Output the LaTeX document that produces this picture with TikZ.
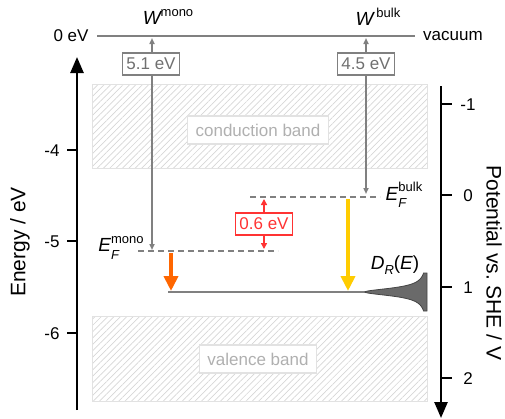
\documentclass[tikz,border=0pt]{standalone}
\usepackage{fontspec}
\setmainfont{Liberation Sans}
\usetikzlibrary{arrows.meta,positioning,patterns.meta}
\definecolor{levelgray}{HTML}{808080}
\definecolor{boxtext}{HTML}{707070}
\definecolor{bandedge}{HTML}{E2E2E2}
\definecolor{hatchgray}{HTML}{D6D6D6}
\definecolor{bandtext}{HTML}{B0B0B0}
\definecolor{gapred}{HTML}{FF3333}
\definecolor{monoorange}{HTML}{FF6600}
\definecolor{bulkyellow}{HTML}{FFCC00}
\definecolor{dosfill}{HTML}{6A6A6A}
\definecolor{dosedge}{HTML}{444444}

\begin{document}
\begin{tikzpicture}[x=1pt, y=-1pt,
    every node/.style={font=\fontsize{17}{20}\selectfont},
    band/.style={draw=bandedge, line width=1pt, pattern={Lines[angle=45,distance=4.5pt,line width=0.7pt]}, pattern color=hatchgray},
    bandlabel/.style={draw=bandedge, fill=white, text=bandtext, line width=1.5pt, inner xsep=8pt, minimum height=28pt},
    wbox/.style={draw=levelgray, fill=white, text=boxtext, line width=1.6pt, inner xsep=4pt, inner ysep=2pt, minimum height=22pt},
    gapbox/.style={draw=gapred, fill=white, text=gapred, line width=1.6pt, inner xsep=4pt, inner ysep=2pt, minimum height=22pt},
    level/.style={levelgray, line width=2pt},
    fermi/.style={levelgray, line width=2pt, dash pattern=on 6pt off 4pt},
    warrow/.style={levelgray, line width=1.5pt, -{Triangle[length=6pt,width=5pt]}},
    gaparrow/.style={gapred, line width=1.5pt, -{Triangle[length=6pt,width=6pt]}},
    transfer/.style={line width=4pt, -{Triangle[length=15pt,width=14pt]}},
    axis/.style={line width=2.5pt, -{Triangle[length=16pt,width=13pt]}},
    tick/.style={line width=2.5pt}
]
    \useasboundingbox (0,0) rectangle (505,418);

    \draw[band] (92,84) rectangle (427,168);
    \draw[band] (92,316) rectangle (427,401);
    \node[bandlabel] (cb) at (258,130) {conduction band};
    \node[bandlabel] (vb) at (258,359) {valence band};

    \node (zero) at (71,36) {0 eV};
    \node (vac) at (453,36) {vacuum};
    \draw[level] ([xshift=5pt]zero.east) -- ([xshift=-5pt]vac.west);
    \node (wmono) at (168,17) {{\fontsize{19}{20}\selectfont\itshape W}\raisebox{0.45em}{\fontsize{13}{13}\selectfont mono}};
    \node (wbulk) at (378,17) {{\fontsize{19}{20}\selectfont\itshape W}\,\raisebox{0.45em}{\fontsize{13}{13}\selectfont bulk}};

    \coordinate (wm) at (152,38);
    \coordinate (wb) at (366,38);
    \coordinate (efm) at (152,250);
    \coordinate (efb) at (366,194);
    \node[wbox] (d51) at (151,64) {5.1 eV};
    \node[wbox] (d45) at (366,64) {4.5 eV};
    \draw[warrow] (d51.north -| wm) -- (wm);
    \draw[warrow] (d51.south -| efm) -- (efm);
    \draw[warrow] (d45.north) -- (wb);
    \draw[warrow] (d45.south) -- (efb);

    \draw[fermi] (250,197) -- (380,197);
    \draw[fermi] (138,251) -- (278,251);
    \node (lbulk) at (404,195) {{\fontsize{19}{20}\selectfont\itshape E}\rlap{\raisebox{-0.45em}{\fontsize{13}{13}\selectfont\itshape F}}\raisebox{0.5em}{\fontsize{13}{13}\selectfont bulk}};
    \node (lmono) at (121,248) {{\fontsize{19}{20}\selectfont\itshape E}\rlap{\raisebox{-0.45em}{\fontsize{13}{13}\selectfont\itshape F}}\raisebox{0.5em}{\fontsize{13}{13}\selectfont mono}};

    \node[gapbox] (gap) at (264,224) {0.6 eV};
    \coordinate (gtop) at (264,199);
    \coordinate (gbot) at (264,249);
    \draw[gaparrow] (gap.north) -- (gtop);
    \draw[gaparrow] (gap.south) -- (gbot);

    \coordinate (rstart) at (168,292);
    \coordinate (rend) at (366,292);
    \draw[level] (rstart) -- (rend);
    \filldraw[fill=dosfill, draw=dosedge, line width=0.8pt] (427,273) -- plot[domain=-19:19, samples=121] ({427-62/(1+(\x/4.6)^2)}, {292+\x}) -- (427,311) -- cycle;
    \node (dos) at (395,265) {\fontsize{19}{20}\selectfont\itshape D\raisebox{-0.3em}{\fontsize{13}{13}\selectfont R}\upshape(\itshape E\upshape)};

    \coordinate (otop) at (171,253);
    \coordinate (obot) at (171,291);
    \coordinate (ytop) at (348,199);
    \coordinate (ybot) at (348,291);
    \draw[transfer, monoorange] (otop) -- (obot);
    \draw[transfer, bulkyellow] (ytop) -- (ybot);

    \coordinate (eaxb) at (77,410);
    \coordinate (eaxt) at (77,57);
    \draw[axis] (eaxb) -- (eaxt);
    \foreach \y/\t in {150/-4, 241/-5, 333/-6} {
        \draw[tick] (67,\y) -- (77,\y);
        \node[anchor=east] (e\y) at (63,\y+1) {\t};
    }
    \node[rotate=90, font=\fontsize{21}{24}\selectfont] (elab) at (20,242) {Energy / eV};

    \coordinate (paxt) at (441,86);
    \coordinate (paxb) at (441,418);
    \draw[axis] (paxt) -- (paxb);
    \foreach \y/\t in {104/-1, 195/0, 287/1, 378/2} {
        \draw[tick] (441,\y) -- (452,\y);
        \node (p\y) at (468,\y+1) {\t};
    }
    \node[rotate=-90, font=\fontsize{21}{24}\selectfont] (plab) at (494,263) {Potential vs.\ SHE / V};
\end{tikzpicture}
\end{document}
